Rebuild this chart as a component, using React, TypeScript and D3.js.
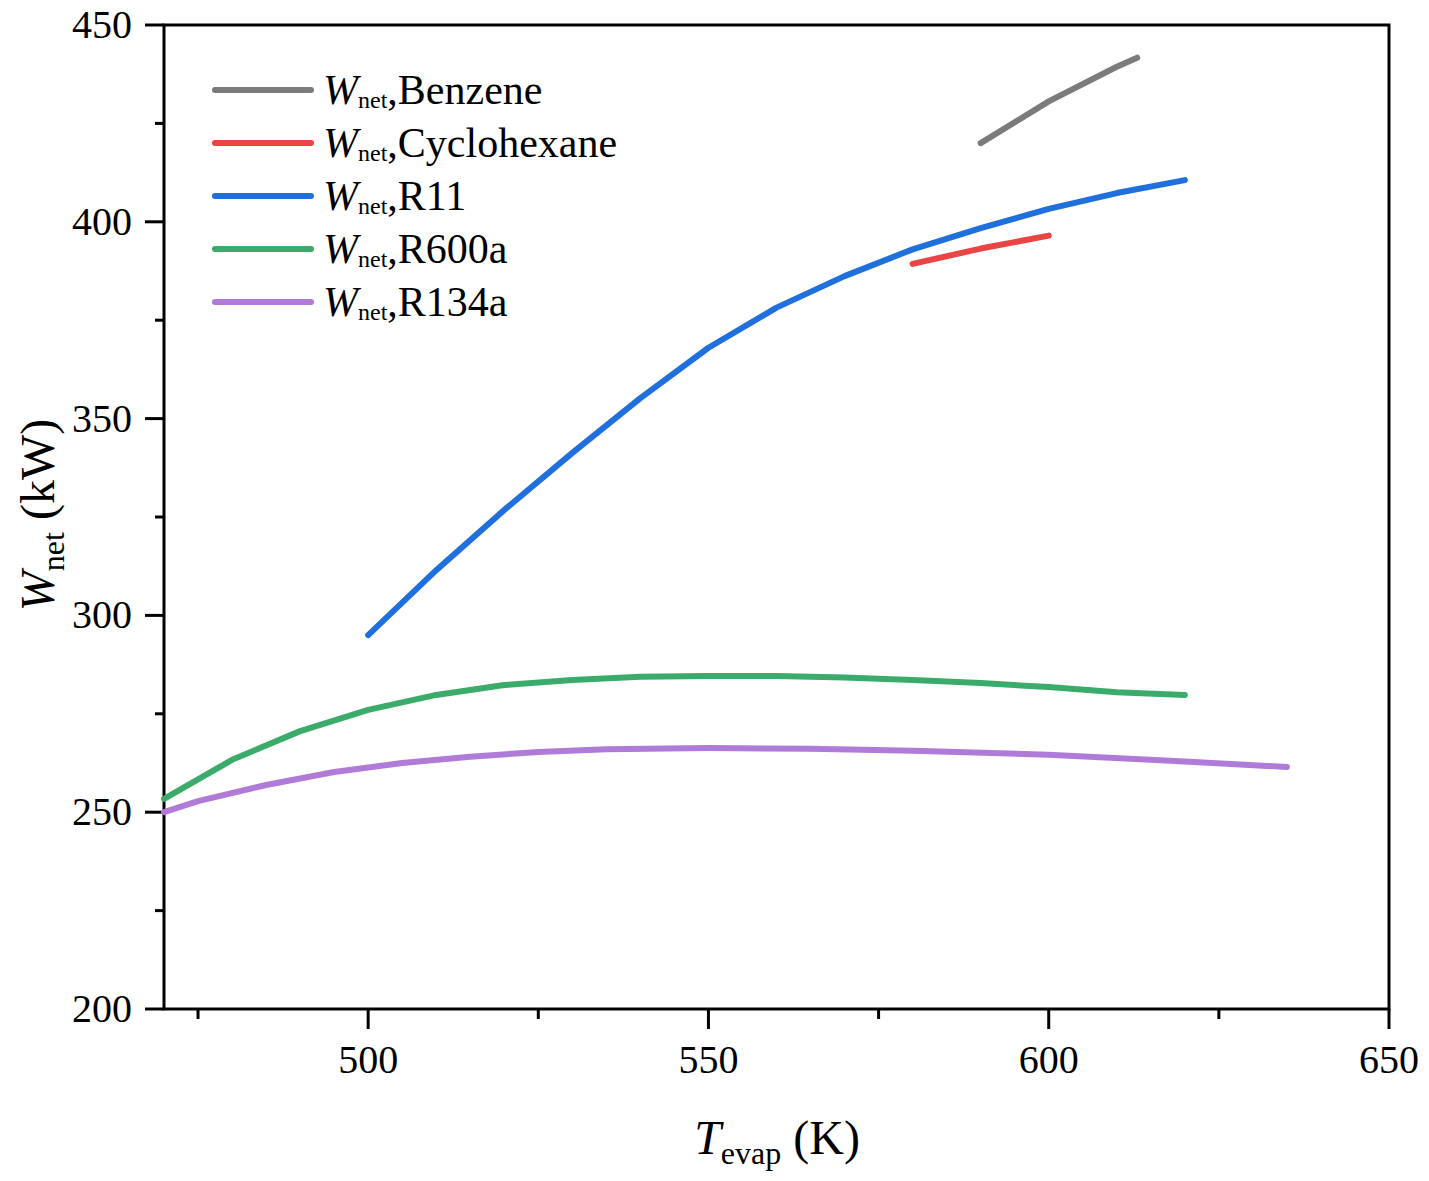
import React, { useEffect, useRef } from 'react'
import * as d3 from 'd3'

const W = 1429
const H = 1181
const margin = { top: 25, right: 40, bottom: 172, left: 164 }
const width = W - margin.left - margin.right
const height = H - margin.top - margin.bottom

// T_evap (K) and W_net (kW)
const benzeneT = [590, 600, 610, 613]
const benzeneW = [420.0, 430.6, 439.4, 441.7]

const cyclohexaneT = [580, 590, 600]
const cyclohexaneW = [389.3, 393.2, 396.5]

const r11T = [500, 510, 520, 530, 540, 550, 560, 570, 580, 590, 600, 610, 620]
const r11W = [295.0, 311.5, 326.8, 341.3, 355.2, 368.0, 378.2, 386.2, 393.0, 398.4, 403.3, 407.3, 410.6]

const r600aT = [470, 480, 490, 500, 510, 520, 530, 540, 550, 560, 570, 580, 590, 600, 610, 620]
const r600aW = [253.4, 263.3, 270.6, 276.0, 279.8, 282.3, 283.6, 284.4, 284.6, 284.6, 284.2, 283.6, 282.8, 281.8, 280.5, 279.8]

const r134aT = [470, 475, 485, 495, 505, 515, 525, 535, 550, 565, 580, 600, 620, 635]
const r134aW = [250.0, 252.8, 256.9, 260.2, 262.5, 264.1, 265.3, 266.0, 266.3, 266.1, 265.6, 264.6, 262.9, 261.5]

const seriesNames = ['Benzene', 'Cyclohexane', 'R11', 'R600a', 'R134a']
const seriesColors = ['#7b7b7b', '#ea4444', '#1f6fdc', '#3aab6b', '#b07ad9']
const seriesT = [benzeneT, cyclohexaneT, r11T, r600aT, r134aT]
const seriesW = [benzeneW, cyclohexaneW, r11W, r600aW, r134aW]

const xMajor = [500, 550, 600, 650]
const xMinor = [475, 525, 575, 625]
const yMajor = [200, 250, 300, 350, 400, 450]
const yMinor = [225, 275, 325, 375, 425]

const font = '"Liberation Serif", "Times New Roman", serif'

export default function App() {
  const ref = useRef<SVGSVGElement>(null)

  useEffect(() => {
    const svg = d3.select(ref.current)
    svg.selectAll('*').remove()

    const g = svg.append('g')
      .attr('transform', `translate(${margin.left}, ${margin.top})`)

    const x = d3.scaleLinear().domain([470, 650]).range([0, width])
    const y = d3.scaleLinear().domain([200, 450]).range([height, 0])

    // frame
    g.append('rect')
      .attr('width', width)
      .attr('height', height)
      .attr('fill', 'none')
      .attr('stroke', '#000')
      .attr('stroke-width', 3)

    // x axis
    const xAxis = g.append('g').attr('transform', `translate(0, ${height})`)
    xAxis.selectAll('line.major').data(xMajor).enter().append('line')
      .attr('x1', (d: number) => x(d)).attr('x2', (d: number) => x(d))
      .attr('y1', 0).attr('y2', 20)
      .attr('stroke', '#000').attr('stroke-width', 3)
    xAxis.selectAll('line.minor').data(xMinor).enter().append('line')
      .attr('x1', (d: number) => x(d)).attr('x2', (d: number) => x(d))
      .attr('y1', 0).attr('y2', 10)
      .attr('stroke', '#000').attr('stroke-width', 3)
    xAxis.selectAll('text').data(xMajor).enter().append('text')
      .attr('x', (d: number) => x(d))
      .attr('y', 64)
      .attr('text-anchor', 'middle')
      .attr('font-family', font)
      .attr('font-size', 40)
      .text((d: number) => d)

    // y axis
    const yAxis = g.append('g')
    yAxis.selectAll('line.major').data(yMajor).enter().append('line')
      .attr('x1', -19).attr('x2', 0)
      .attr('y1', (d: number) => y(d)).attr('y2', (d: number) => y(d))
      .attr('stroke', '#000').attr('stroke-width', 3)
    yAxis.selectAll('line.minor').data(yMinor).enter().append('line')
      .attr('x1', -9).attr('x2', 0)
      .attr('y1', (d: number) => y(d)).attr('y2', (d: number) => y(d))
      .attr('stroke', '#000').attr('stroke-width', 3)
    yAxis.selectAll('text').data(yMajor).enter().append('text')
      .attr('x', -32)
      .attr('y', (d: number) => y(d) + 13)
      .attr('text-anchor', 'end')
      .attr('font-family', font)
      .attr('font-size', 40)
      .text((d: number) => d)

    // axis titles
    const xt = svg.append('text')
      .attr('x', 777)
      .attr('y', 1154)
      .attr('text-anchor', 'middle')
      .attr('font-family', font)
      .attr('font-size', 48)
    xt.append('tspan').attr('font-style', 'italic').text('T')
    xt.append('tspan').attr('font-size', 32).attr('dy', 10).text('evap')
    xt.append('tspan').attr('dy', -10).text(' (K)')

    const yt = svg.append('text')
      .attr('transform', `translate(54, 515) rotate(-90)`)
      .attr('text-anchor', 'middle')
      .attr('font-family', font)
      .attr('font-size', 48)
    yt.append('tspan').attr('font-style', 'italic').text('W')
    yt.append('tspan').attr('font-size', 32).attr('dy', 10).text('net')
    yt.append('tspan').attr('dy', -10).text(' (kW)')

    // lines
    const line = d3.line<[number, number]>()
      .x((d) => x(d[0]))
      .y((d) => y(d[1]))

    seriesNames.forEach((name, i) => {
      const pts: [number, number][] = seriesT[i].map((t, j) => [t, seriesW[i][j]])
      g.append('path')
        .datum(pts)
        .attr('d', line)
        .attr('fill', 'none')
        .attr('stroke', seriesColors[i])
        .attr('stroke-width', 6)
        .attr('stroke-linecap', 'round')
        .attr('stroke-linejoin', 'round')
    })

    // legend
    const legend = svg.append('g').attr('transform', 'translate(215, 90)')
    seriesNames.forEach((name, i) => {
      const row = legend.append('g').attr('transform', `translate(0, ${i * 53})`)
      row.append('line')
        .attr('x1', 0).attr('x2', 96)
        .attr('stroke', seriesColors[i])
        .attr('stroke-width', 6)
        .attr('stroke-linecap', 'round')
      const t = row.append('text')
        .attr('x', 108)
        .attr('y', 14)
        .attr('font-family', font)
        .attr('font-size', 42)
      t.append('tspan').attr('font-style', 'italic').text('W')
      t.append('tspan').attr('font-size', 24).attr('dy', 4).text('net')
      t.append('tspan').attr('dy', -4).text(',' + name)
    })
  }, [])

  return (
    <svg
      ref={ref}
      width={W}
      height={H}
      style={{ position: 'absolute', left: 0, top: 0, background: '#fff' }}
    />
  )
}
